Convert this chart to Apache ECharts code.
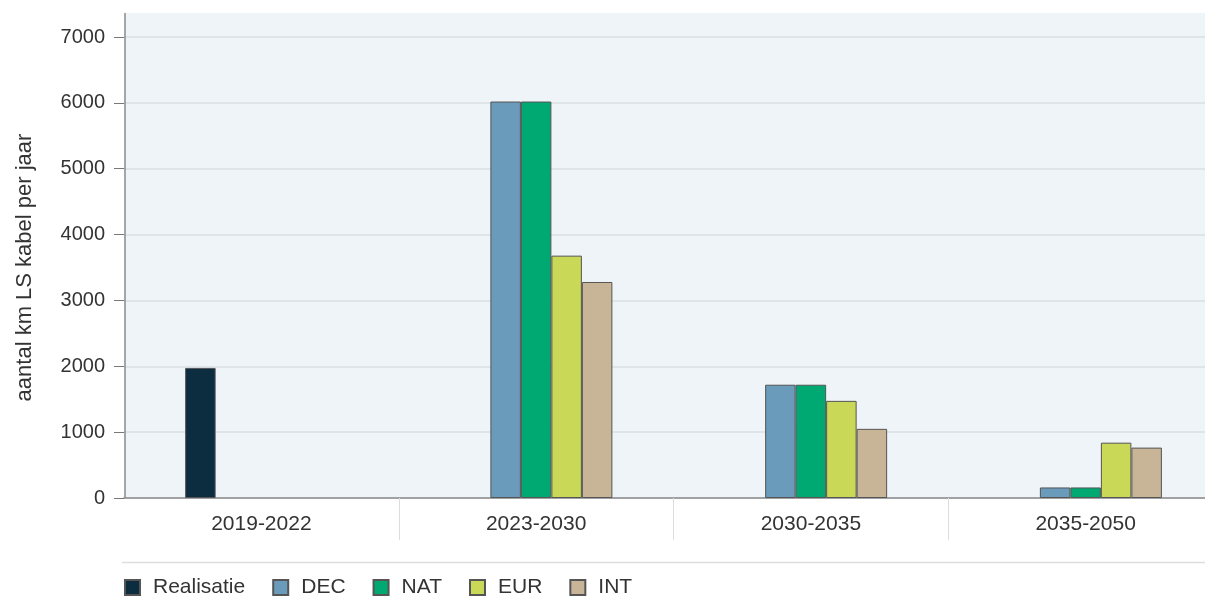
<!DOCTYPE html>
<html>
<head>
<meta charset="utf-8">
<style>html,body{margin:0;padding:0;background:#fff;overflow:hidden;width:1205px;height:596px;}#c{width:1230px;height:596px;}</style>
<script src="https://cdn.jsdelivr.net/npm/echarts@6/dist/echarts.min.js"></script>
</head>
<body>
<div id="c"></div>
<script>
var categories = ['2019-2022', '2023-2030', '2030-2035', '2035-2050'];
var seriesNames = ['Realisatie', 'DEC', 'NAT', 'EUR', 'INT'];
var realisatie = [1975, null, null, null];
var dec = [null, 6020, 1720, 160];
var nat = [null, 6020, 1720, 160];
var eur = [null, 3680, 1475, 840];
var int_ = [null, 3280, 1050, 765];
var yTicks = [0, 1000, 2000, 3000, 4000, 5000, 6000, 7000];

var colors = ['#0c2d3f', '#6a9bbb', '#00a971', '#c9d857', '#c8b598'];
var font = 'Liberation Sans, Arial, Helvetica, sans-serif';
var values = [realisatie, dec, nat, eur, int_];

var chart = echarts.init(document.getElementById('c'), null, {renderer: 'canvas'});
var G = {left: 124, top: 37, bottom: 98, right: 7};
var option = {
  animation: false,
  backgroundColor: '#ffffff',
  textStyle: {fontFamily: font},
  grid: {left: G.left, top: G.top, bottom: G.bottom, right: G.right, containLabel: false},
  legend: {
    left: 124, top: 577, padding: 0, itemWidth: 15, itemHeight: 15, itemGap: 27,
    icon: 'rect',
    textStyle: {fontSize: 21, color: '#333', fontFamily: font, padding: [0, 0, 0, 8]},
    data: seriesNames
  },
  xAxis: {
    type: 'category',
    data: categories,
    axisLine: {show: true, lineStyle: {color: '#8a8a8a', width: 1.5}},
    axisTick: {show: true, length: 42, lineStyle: {color: '#dcdcdc', width: 1},
      interval: function (idx) { return idx !== 0; }},
    axisLabel: {fontSize: 21, color: '#333', margin: 16, fontFamily: font},
    splitLine: {show: false}
  },
  yAxis: {
    type: 'value',
    min: yTicks[0], max: yTicks[yTicks.length - 1], interval: 1000,
    name: 'aantal km LS kabel per jaar',
    nameLocation: 'middle', nameGap: 88, nameRotate: 90,
    nameTextStyle: {fontSize: 22, color: '#333', fontFamily: font},
    axisLine: {show: false},
    axisTick: {show: true, length: 10, inside: false, lineStyle: {color: '#777', width: 1}},
    axisLabel: {fontSize: 20, color: '#333', margin: 19, fontFamily: font,
      formatter: function (v) { return String(v); }},
    splitLine: {show: true, lineStyle: {color: '#d9dfe3', width: 1.5}}
  },
  series: seriesNames.map(function (n, i) {
    return {
      name: n, type: 'bar', data: values[i], barWidth: 30.5, barGap: '0%',
      itemStyle: {color: colors[i], borderColor: '#555', borderWidth: 1}
    };
  })
};
chart.setOption(option);

var bottomPx = chart.convertToPixel({yAxisIndex: 0}, 0);
chart.setOption({
  graphic: [
    {type: 'rect', z: -10, silent: true,
     shape: {x: G.left + 1, y: 13, width: 1230 - G.left - 1, height: bottomPx - 13},
     style: {fill: '#eff4f8'}},
    {type: 'line', z: 10, silent: true,
     shape: {x1: G.left + 1, y1: 13, x2: G.left + 1, y2: bottomPx},
     style: {stroke: '#8a8a8a', lineWidth: 1.5}},
    {type: 'line', silent: true,
     shape: {x1: 122, y1: 562.5, x2: 1230, y2: 562.5},
     style: {stroke: '#dedede', lineWidth: 1.5}}
  ]
});
</script>
</body>
</html>
